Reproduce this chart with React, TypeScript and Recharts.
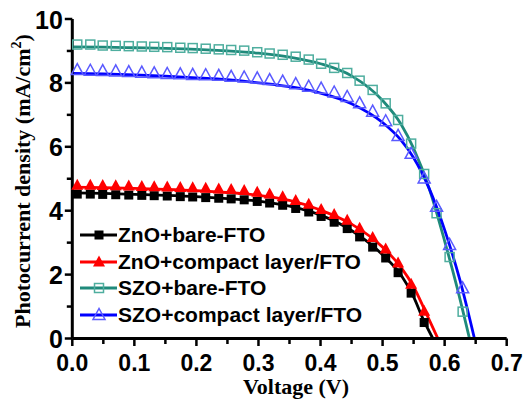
import React from "react";
import { ComposedChart, Line, Scatter, XAxis, YAxis, Legend } from "recharts";

document.body.style.margin = "0";

// measured points (every ~0.02 V)
const markV = [
  0.008, 0.029, 0.049, 0.07, 0.091, 0.112, 0.132, 0.153, 0.174, 0.194, 0.215,
  0.236, 0.256, 0.277, 0.298, 0.318, 0.339, 0.36, 0.381, 0.401, 0.422, 0.443,
  0.463, 0.484, 0.505, 0.525, 0.546, 0.567, 0.587, 0.608, 0.629,
];
const znoBareJ = [
  4.52, 4.52, 4.51, 4.5, 4.49, 4.48, 4.47, 4.46, 4.44, 4.43, 4.41, 4.39, 4.37,
  4.34, 4.29, 4.24, 4.17, 4.07, 3.96, 3.82, 3.64, 3.44, 3.18, 2.86, 2.52, 2.06,
  1.42, 0.5,
];
const znoCompactJ = [
  4.8, 4.8, 4.79, 4.78, 4.77, 4.76, 4.75, 4.74, 4.73, 4.72, 4.7, 4.68, 4.66,
  4.63, 4.58, 4.52, 4.44, 4.32, 4.2, 4.04, 3.88, 3.7, 3.45, 3.16, 2.8, 2.36,
  1.7, 0.85,
];
const szoBareJ = [
  9.2, 9.2, 9.17, 9.16, 9.15, 9.14, 9.13, 9.12, 9.1, 9.09, 9.07, 9.05, 9.03,
  9.01, 8.96, 8.92, 8.88, 8.82, 8.73, 8.6, 8.47, 8.31, 8.07, 7.78, 7.36, 6.84,
  6.1, 5.15, 3.92, 2.55, 0.84,
];
const szoCompactJ = [
  8.4, 8.38, 8.37, 8.36, 8.34, 8.32, 8.3, 8.28, 8.27, 8.25, 8.24, 8.22, 8.19,
  8.17, 8.14, 8.09, 8.04, 7.96, 7.88, 7.82, 7.7, 7.56, 7.36, 7.1, 6.8, 6.34,
  5.78, 5.01, 4.12, 2.93, 1.57,
];

// fitted curves
const znoBareFitV = [0, 0.05, 0.1, 0.15, 0.2, 0.25, 0.3, 0.35, 0.4, 0.45, 0.5, 0.53, 0.55, 0.565, 0.581];
const znoBareFitJ = [4.56, 4.54, 4.51, 4.48, 4.44, 4.38, 4.3, 4.14, 3.86, 3.38, 2.62, 1.98, 1.3, 0.62, 0];
const znoCompactFitV = [0, 0.05, 0.1, 0.15, 0.2, 0.25, 0.3, 0.35, 0.4, 0.45, 0.5, 0.53, 0.55, 0.57, 0.589];
const znoCompactFitJ = [4.74, 4.72, 4.7, 4.67, 4.63, 4.57, 4.48, 4.32, 4.02, 3.58, 2.86, 2.22, 1.62, 0.8, 0];
const szoBareFitV = [0, 0.05, 0.1, 0.15, 0.2, 0.25, 0.3, 0.35, 0.4, 0.45, 0.5, 0.53, 0.55, 0.575, 0.6, 0.62, 0.64];
const szoBareFitJ = [9.13, 9.12, 9.1, 9.08, 9.05, 9.0, 8.93, 8.81, 8.6, 8.22, 7.45, 6.7, 5.95, 4.7, 3.05, 1.6, 0];
const szoCompactFitV = [0, 0.05, 0.1, 0.15, 0.2, 0.25, 0.3, 0.35, 0.4, 0.45, 0.5, 0.53, 0.55, 0.575, 0.6, 0.625, 0.648];
const szoCompactFitJ = [8.3, 8.28, 8.25, 8.21, 8.16, 8.1, 8.0, 7.88, 7.68, 7.35, 6.76, 6.2, 5.66, 4.7, 3.4, 1.8, 0];

const xTicks = [0, 0.05, 0.1, 0.15, 0.2, 0.25, 0.3, 0.35, 0.4, 0.45, 0.5, 0.55, 0.6, 0.65, 0.7];
const yTicks = [0, 1, 2, 3, 4, 5, 6, 7, 8, 9, 10];

const TEAL = "#1f8a7b";
const TEAL_MARK = "#4fae9f";
const BLUE = "#0000ff";
const BLUE_MARK = "#5a5aff";

const zip = (vs: number[], js: number[]) => js.map((j, i) => ({ v: vs[i], j }));

const SANS = "'Liberation Sans', Arial, sans-serif";
const SERIF = "'Liberation Serif', 'Times New Roman', serif";

const squareShape = (color: string, filled: boolean) => (p: any) => (
  <rect
    x={p.cx - 4.5}
    y={p.cy - 4.5}
    width={9}
    height={9}
    fill={filled ? color : "none"}
    stroke={color}
    strokeWidth={filled ? 0 : 1.5}
  />
);

const triangleShape = (color: string, filled: boolean) => (p: any) => (
  <polygon
    points={`${p.cx},${p.cy - 6.5} ${p.cx - 6},${p.cy + 4.5} ${p.cx + 6},${p.cy + 4.5}`}
    fill={filled ? color : "none"}
    stroke={color}
    strokeWidth={filled ? 0 : 1.5}
  />
);

const legendItems = [
  { name: "ZnO+bare-FTO", line: "#000", mark: "#000", kind: "square", filled: true },
  { name: "ZnO+compact layer/FTO", line: "#ff0000", mark: "#ff0000", kind: "triangle", filled: true },
  { name: "SZO+bare-FTO", line: TEAL, mark: TEAL_MARK, kind: "square", filled: false },
  { name: "SZO+compact layer/FTO", line: BLUE, mark: BLUE_MARK, kind: "triangle", filled: false },
];

function LegendBox() {
  return (
    <div>
      {legendItems.map((it) => {
        const shape = it.kind === "square" ? squareShape(it.mark, it.filled) : triangleShape(it.mark, it.filled);
        return (
          <div key={it.name} style={{ display: "flex", alignItems: "center", height: 26.7 }}>
            <svg width={37} height={16} style={{ display: "block" }}>
              <line x1={0} x2={37} y1={8} y2={8} stroke={it.line} strokeWidth={3} />
              {shape({ cx: 19, cy: 8 })}
            </svg>
            <span style={{ fontFamily: SANS, fontWeight: 700, fontSize: 21, color: "#000", marginLeft: 1, whiteSpace: "nowrap" }}>
              {it.name}
            </span>
          </div>
        );
      })}
    </div>
  );
}

function XTick({ x, y, payload }: any) {
  const v = payload.value;
  const major = Math.round(v * 100) % 10 === 0;
  return (
    <g>
      <line x1={x} x2={x} y1={y} y2={y + (major ? 7.5 : 5.5)} stroke="#000" strokeWidth={2.5} />
      {major && (
        <text x={x} y={y + 32.5} textAnchor="middle" fontFamily={SANS} fontWeight={700} fontSize={23} fill="#000">
          {v.toFixed(1)}
        </text>
      )}
    </g>
  );
}

function YTick({ x, y, payload }: any) {
  const v = payload.value;
  const major = v % 2 === 0;
  return (
    <g>
      <line x1={x} x2={x - (major ? 7.5 : 5.5)} y1={y} y2={y} stroke="#000" strokeWidth={2.5} />
      {major && (
        <text x={x - 9.5} y={y + 9.5} textAnchor="end" fontFamily={SANS} fontWeight={700} fontSize={25} fill="#000">
          {v}
        </text>
      )}
    </g>
  );
}

export default function App() {
  const axisLine = { stroke: "#000", strokeWidth: 3 };
  return (
    <ComposedChart width={524} height={403} margin={{ top: 19, right: 17.3, bottom: 0, left: 0 }}>
      <XAxis
        dataKey="v"
        type="number"
        domain={[0, 0.7]}
        ticks={xTicks}
        interval={0}
        tickSize={0}
        tickMargin={0}
        tickLine={false}
        axisLine={axisLine}
        tick={(p: any) => <XTick {...p} />}
        height={64.5}
        label={{
          content: () => (
            <text x={296} y={394} textAnchor="middle" fontFamily={SERIF} fontWeight={700} fontSize={22} fill="#000">
              Voltage (V)
            </text>
          ),
        }}
      />
      <YAxis
        dataKey="j"
        type="number"
        domain={[0, 10]}
        ticks={yTicks}
        interval={0}
        tickSize={0}
        tickMargin={0}
        tickLine={false}
        axisLine={axisLine}
        tick={(p: any) => <YTick {...p} />}
        width={72.3}
        label={{
          content: () => (
            <text
              x={30}
              y={181}
              transform="rotate(-90 30 181)"
              textAnchor="middle"
              fontFamily={SERIF}
              fontWeight={700}
              fontSize={22}
              fill="#000"
            >
              Photocurrent density (mA/cm
              <tspan fontSize={14} dy={-9}>2</tspan>
              <tspan dy={9}>)</tspan>
            </text>
          ),
        }}
      />
      <XAxis xAxisId="top" orientation="top" type="number" domain={[0, 0.7]} height={0} tick={false} tickLine={false} axisLine={axisLine} />
      <YAxis yAxisId="right" orientation="right" type="number" domain={[0, 10]} width={0} tick={false} tickLine={false} axisLine={axisLine} />

      <Scatter name="ZnO+bare-FTO marks" data={zip(markV, znoBareJ)} shape={squareShape("#000", true)} isAnimationActive={false} legendType="none" />
      <Line data={zip(znoBareFitV, znoBareFitJ)} dataKey="j" type="monotone" stroke="#000" strokeWidth={2.8} dot={false} activeDot={false} isAnimationActive={false} legendType="none" />
      <Scatter name="ZnO+compact marks" data={zip(markV, znoCompactJ)} shape={triangleShape("#ff0000", true)} isAnimationActive={false} legendType="none" />
      <Line data={zip(znoCompactFitV, znoCompactFitJ)} dataKey="j" type="monotone" stroke="#ff0000" strokeWidth={2.8} dot={false} activeDot={false} isAnimationActive={false} legendType="none" />
      <Scatter name="SZO+bare marks" data={zip(markV, szoBareJ)} shape={squareShape(TEAL_MARK, false)} isAnimationActive={false} legendType="none" />
      <Line data={zip(szoBareFitV, szoBareFitJ)} dataKey="j" type="monotone" stroke={TEAL} strokeWidth={2.8} dot={false} activeDot={false} isAnimationActive={false} legendType="none" />
      <Scatter name="SZO+compact marks" data={zip(markV, szoCompactJ)} shape={triangleShape(BLUE_MARK, false)} isAnimationActive={false} legendType="none" />
      <Line data={zip(szoCompactFitV, szoCompactFitJ)} dataKey="j" type="monotone" stroke={BLUE} strokeWidth={2.8} dot={false} activeDot={false} isAnimationActive={false} legendType="none" />

      <Legend
        layout="horizontal"
        verticalAlign="middle"
        align="center"
        content={() => <LegendBox />}
        wrapperStyle={{ position: "absolute", left: 80, top: 221.5, width: 320, height: 110 }}
      />
    </ComposedChart>
  );
}
